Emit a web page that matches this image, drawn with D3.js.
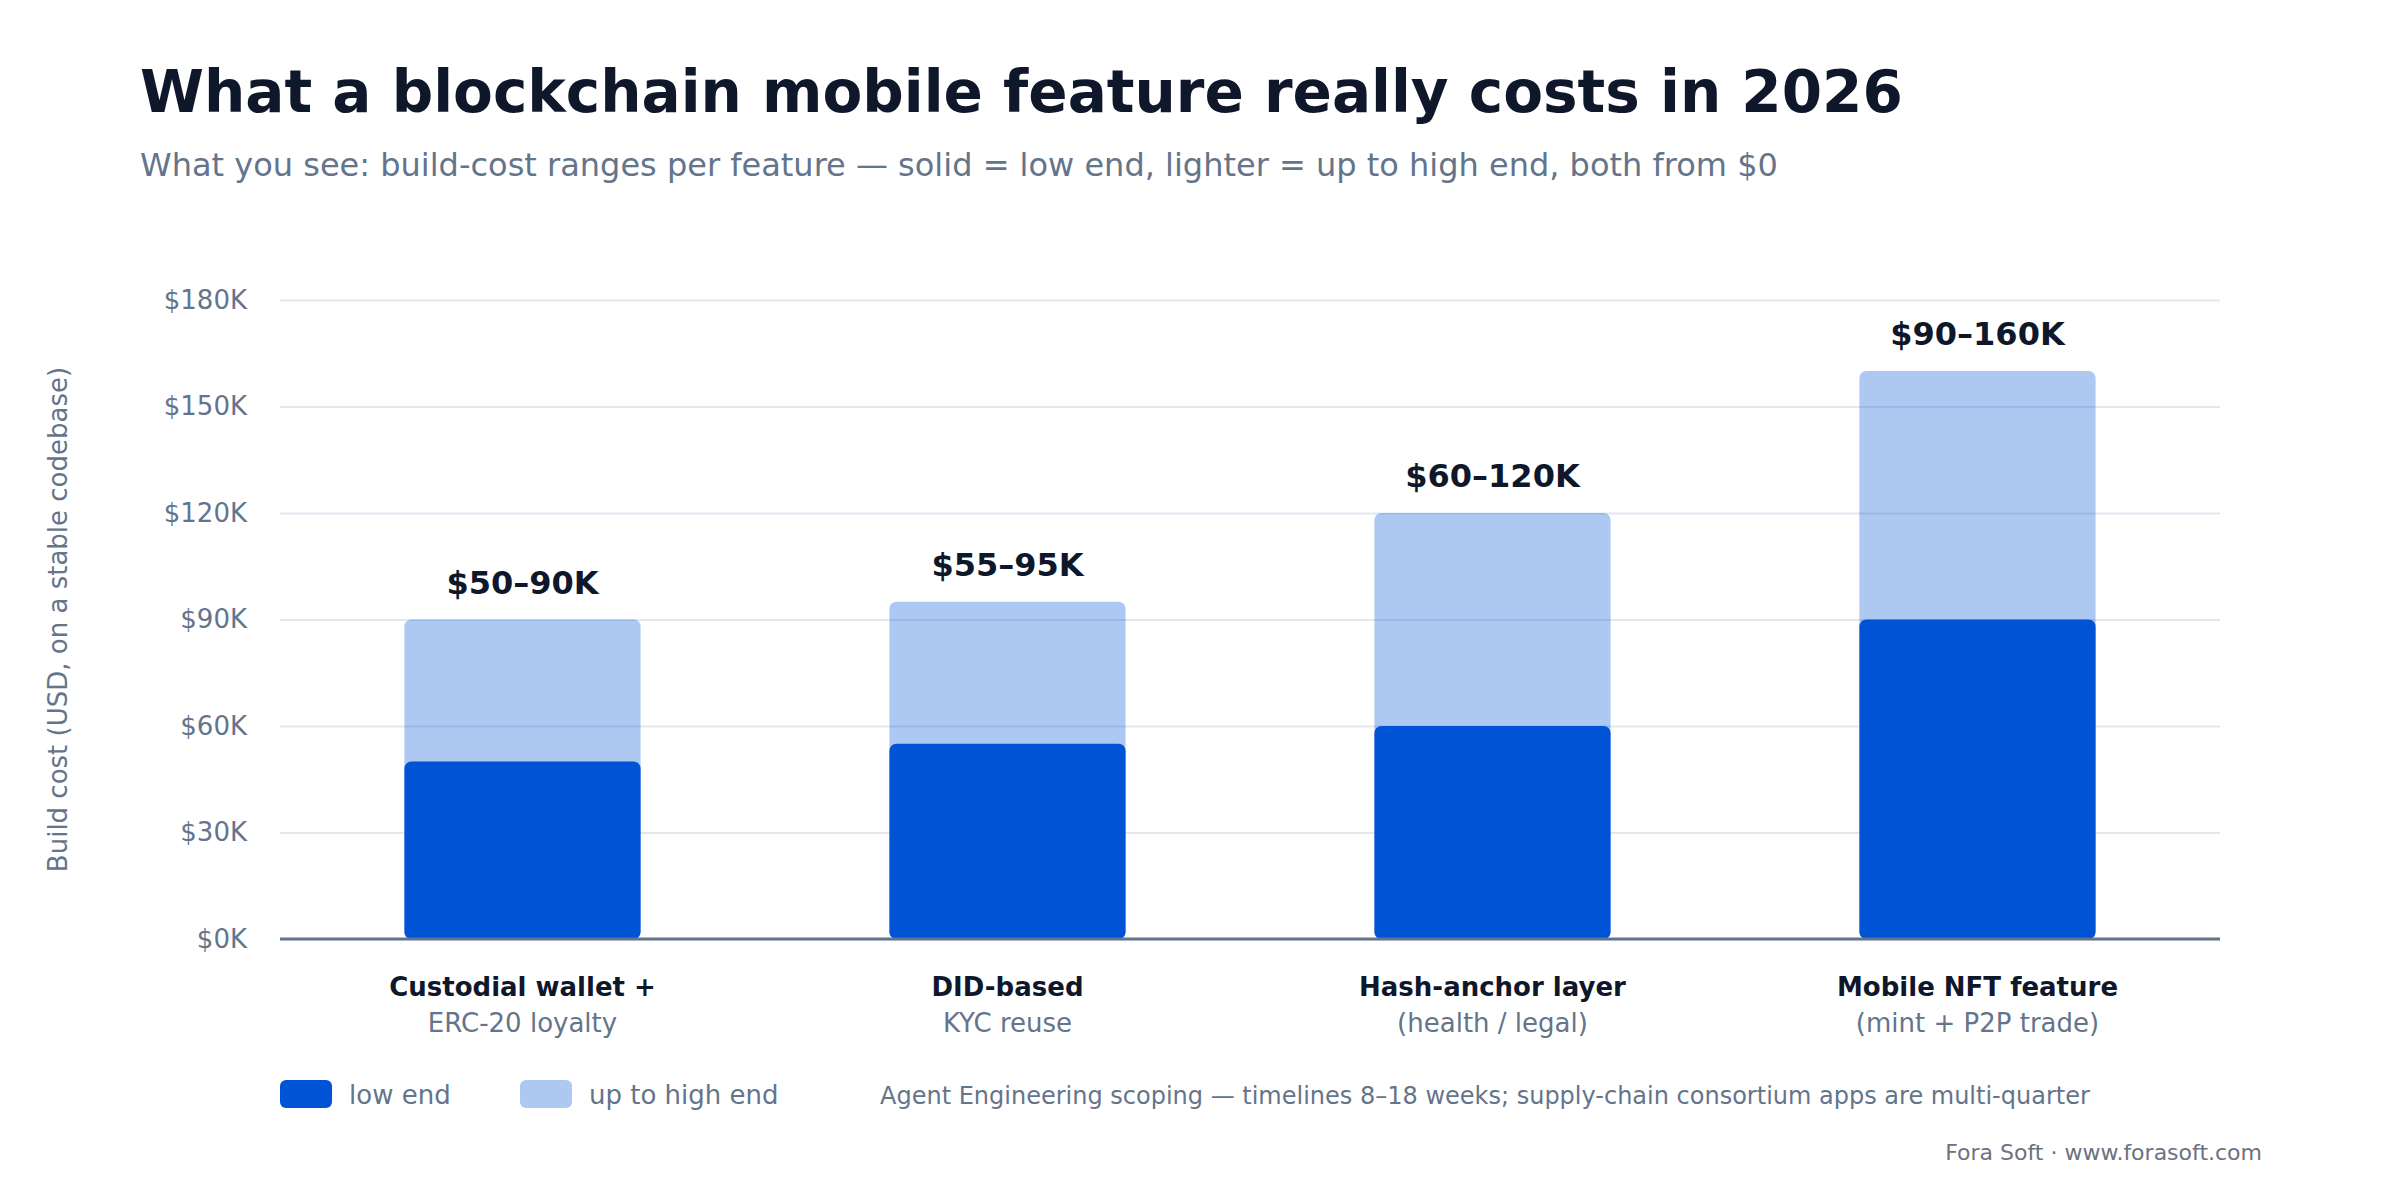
<!DOCTYPE html>
<html>
<head>
<meta charset="utf-8">
<script src="https://cdn.jsdelivr.net/npm/d3@7"></script>
<style>
  body { margin: 0; background: #fff; }
  svg text { font-family: "DejaVu Sans", sans-serif; }
</style>
</head>
<body>
<div class="chart"></div>
<script>
"use strict";
(function(){

// data, in $K
var categories = ["Custodial wallet +", "DID-based", "Hash-anchor layer", "Mobile NFT feature"];
var subLabels = ["ERC-20 loyalty", "KYC reuse", "(health / legal)", "(mint + P2P trade)"];
var lowEnd = [50, 55, 60, 90];
var highEnd = [90, 95, 120, 160];
var rangeLabels = ["$50–90K", "$55–95K", "$60–120K", "$90–160K"];
var yTicks = [0, 30, 60, 90, 120, 150, 180];

var width = 2400;
var height = 1200;
var margin = {top: 300, left: 280, right: 180, bottom: 261};
var plotW = width - margin.left - margin.right;
var plotH = height - margin.top - margin.bottom;

var dark = '#0053d5';
var slate = '#64748b';
var ink = '#0f172a';

var svg = d3.select('.chart')
            .append('svg')
            .attr('width', width)
            .attr('height', height);

svg.append('rect').attr('width', width).attr('height', height).attr('fill', '#fff');

// title + subtitle
svg.append('text')
   .attr('x', 140).attr('y', 112)
   .attr('font-size', 58).attr('font-weight', 'bold').attr('fill', ink)
   .text('What a blockchain mobile feature really costs in 2026');

svg.append('text')
   .attr('x', 140).attr('y', 176)
   .attr('font-size', 32).attr('fill', slate)
   .text('What you see: build-cost ranges per feature — solid = low end, lighter = up to high end, both from $0');

var g = svg.append('g')
           .attr('transform', 'translate(' + margin.left + ',' + margin.top + ')');

var x = d3.scaleBand().domain(categories).range([0, plotW])
          .paddingInner(0.513).paddingOuter(0.2565);
var y = d3.scaleLinear().domain([0, 180]).range([plotH, 0]);

// grid + y labels
var yAxis = g.append('g')
             .call(d3.axisLeft(y).tickValues(yTicks).tickSize(-plotW).tickPadding(33)
                     .tickFormat(function(d){ return '$' + d + 'K' }));
yAxis.select('.domain').remove();
yAxis.selectAll('line').attr('stroke', '#e2e8f0').attr('stroke-width', 2);
yAxis.selectAll('text').attr('font-size', 26).attr('fill', slate)
     .attr('font-family', '"DejaVu Sans", sans-serif');

// bars: light = 0..high, dark = 0..low
g.selectAll('.high')
 .data(highEnd)
 .enter().append('rect')
 .attr('class', 'high')
 .attr('x', function(d, i){ return x(categories[i]) })
 .attr('width', x.bandwidth())
 .attr('y', function(d){ return y(d) })
 .attr('height', function(d){ return y(0) - y(d) })
 .attr('rx', 7)
 .attr('fill', dark).attr('fill-opacity', 0.32);

g.selectAll('.low')
 .data(lowEnd)
 .enter().append('rect')
 .attr('class', 'low')
 .attr('x', function(d, i){ return x(categories[i]) })
 .attr('width', x.bandwidth())
 .attr('y', function(d){ return y(d) })
 .attr('height', function(d){ return y(0) - y(d) })
 .attr('rx', 7)
 .attr('fill', dark);

// zero line
g.append('line')
 .attr('x1', 0).attr('x2', plotW)
 .attr('y1', y(0)).attr('y2', y(0))
 .attr('stroke', slate).attr('stroke-width', 3);

// range labels
g.selectAll('.rlab')
 .data(highEnd)
 .enter().append('text')
 .attr('x', function(d, i){ return x(categories[i]) + x.bandwidth() / 2 })
 .attr('y', function(d){ return y(d) - 26 })
 .attr('text-anchor', 'middle')
 .attr('font-size', 32).attr('font-weight', 'bold').attr('fill', ink)
 .text(function(d, i){ return rangeLabels[i] });

// category labels
g.selectAll('.cat')
 .data(categories)
 .enter().append('text')
 .attr('x', function(d){ return x(d) + x.bandwidth() / 2 })
 .attr('y', plotH + 57)
 .attr('text-anchor', 'middle')
 .attr('font-size', 26).attr('font-weight', 'bold').attr('fill', ink)
 .text(function(d){ return d });

g.selectAll('.sub')
 .data(subLabels)
 .enter().append('text')
 .attr('x', function(d, i){ return x(categories[i]) + x.bandwidth() / 2 })
 .attr('y', plotH + 93)
 .attr('text-anchor', 'middle')
 .attr('font-size', 26).attr('fill', slate)
 .text(function(d){ return d });

// y title
svg.append('text')
   .attr('transform', 'translate(67,' + (margin.top + plotH / 2) + ') rotate(-90)')
   .attr('text-anchor', 'middle')
   .attr('font-size', 26).attr('fill', slate)
   .text('Build cost (USD, on a stable codebase)');

// legend
var legend = [{label: 'low end', x: 280, op: 1}, {label: 'up to high end', x: 520, op: 0.32}];
var lg = svg.selectAll('.leg').data(legend).enter().append('g')
            .attr('transform', function(d){ return 'translate(' + d.x + ',1080)' });
lg.append('rect').attr('width', 52).attr('height', 28).attr('rx', 6)
  .attr('fill', dark).attr('fill-opacity', function(d){ return d.op });
lg.append('text').attr('x', 69).attr('y', 24)
  .attr('font-size', 26).attr('fill', slate)
  .text(function(d){ return d.label });

svg.append('text')
   .attr('x', 880).attr('y', 1104)
   .attr('font-size', 24).attr('fill', slate)
   .text('Agent Engineering scoping — timelines 8–18 weeks; supply-chain consortium apps are multi-quarter');

svg.append('text')
   .attr('x', 2262).attr('y', 1160)
   .attr('text-anchor', 'end')
   .attr('font-size', 22).attr('fill', '#6b7280')
   .text('Fora Soft · www.forasoft.com');

})();
</script>
</body>
</html>
